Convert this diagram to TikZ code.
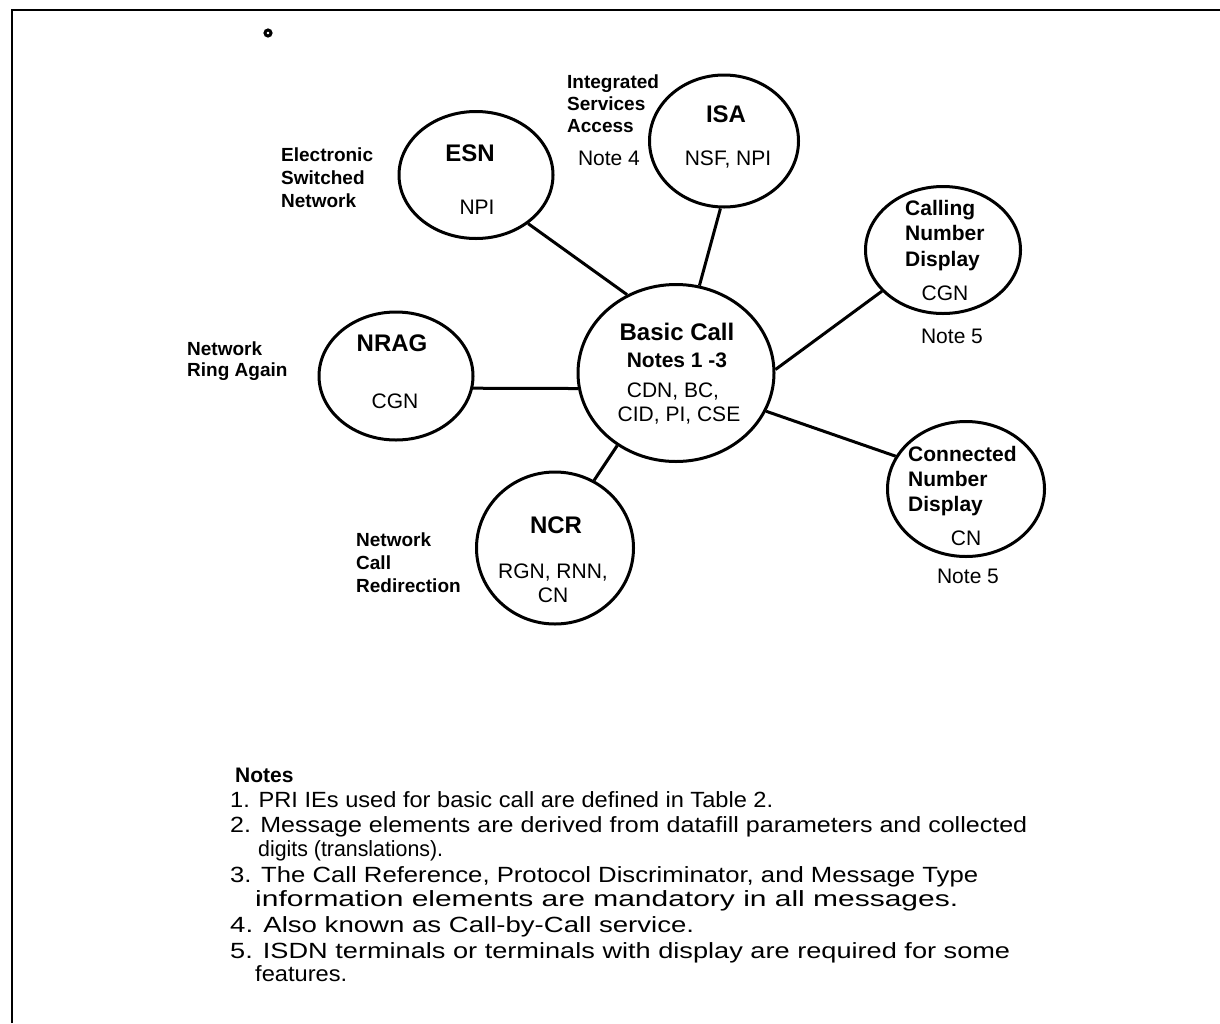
\documentclass[tikz,border=0pt]{standalone}
\usepackage{fontspec}
\usepackage{graphicx}
\setmainfont{Liberation Sans}
\usetikzlibrary{shapes.geometric}
\tikzset{
  ell/.style={ellipse, draw, line width=3pt, inner sep=0pt},
  conn/.style={line width=3pt},
  title/.style={font=\fontsize{24}{28}\selectfont\bfseries, inner sep=0pt},
  sub/.style={font=\fontsize{21}{24}\selectfont\bfseries, inner sep=0pt},
  ie/.style={font=\fontsize{21}{24}\selectfont, inner sep=0pt, align=center},
  lbl/.style={font=\fontsize{19}{23}\selectfont\bfseries, inner sep=0pt, align=left, anchor=west},
  inlbl/.style={font=\fontsize{21}{25.5}\selectfont\bfseries, inner sep=0pt, align=left, anchor=north west},
  note/.style={font=\fontsize{22}{24}\selectfont, inner sep=0pt, anchor=base west},
}
\newcommand{\fitw}[2]{\resizebox{#1pt}{\height}{#2}}
\begin{document}
\begin{tikzpicture}[x=1pt,y=-1pt]
\useasboundingbox (0,0) rectangle (1220,1023);
% frame
\draw[line width=2pt] (12,1023) -- (12,9.5) -- (1220,9.5);
\node[circle, draw, line width=3pt, minimum size=6pt, inner sep=0pt] (dot) at (268,33) {};

% ellipses
\node[ell, minimum width=154pt, minimum height=127pt] (esn) at (476,175) {};
\node[ell, minimum width=149pt, minimum height=132pt] (isa) at (724,141) {};
\node[ell, minimum width=196pt, minimum height=177pt] (basic) at (676,373) {};
\node[ell, minimum width=155pt, minimum height=127pt] (cnd) at (943,250) {};
\node[ell, minimum width=157pt, minimum height=135pt] (cnnd) at (966,489) {};
\node[ell, minimum width=154pt, minimum height=128pt] (nrag) at (396,376) {};
\node[ell, minimum width=157pt, minimum height=152pt] (ncr) at (555,548) {};

% connectors
\draw[conn] (esn.-43) -- (basic.122);
\draw[conn] (isa.-93) -- (basic.75);
\draw[conn] (cnd.214) -- (basic.2);
\draw[conn] (cnnd.155) -- (basic.-23);
\draw[conn] (nrag.-9) -- (basic.189);
\draw[conn] (ncr.60) -- (basic.231);

% ESN
\node[title] (esnT) at (470,153) {ESN};
\node[ie] (esnI) at (477,207) {NPI};
\node[lbl] (esnL) at (281,178) {Electronic\\Switched\\Network};
% ISA
\node[title] (isaT) at (726,114) {ISA};
\node[ie] (isaI) at (728,160) {NSF, NPI};
\node[lbl, font=\fontsize{19}{22}\selectfont\bfseries] (isaL) at (567,104) {Integrated\\Services\\Access};
\node[ie] (isaN) at (609,158) {Note 4};
% Basic call
\node[title] (basT) at (677,332) {Basic Call};
\node[sub] (basS) at (677,360) {Notes 1 -3};
\node[ie] (basI1) at (673,392) {CDN, BC,};
\node[ie] (basI2) at (679,416) {CID, PI, CSE};
% Calling number display
\node[inlbl] (cndL) at (905,200) {Calling\\Number\\Display};
\node[ie] (cndI) at (945,293) {CGN};
\node[ie] (cndN) at (952,336) {Note 5};
% Connected number display
\node[inlbl, font=\fontsize{21}{25}\selectfont\bfseries] (cnndL) at (908,446) {Connected\\Number\\Display};
\node[ie] (cnndI) at (966,538) {CN};
\node[ie] (cnndN) at (968,576) {Note 5};
% NRAG
\node[title] (nragT) at (392,343) {NRAG};
\node[ie] (nragI) at (395,401) {CGN};
\node[lbl, font=\fontsize{19}{21}\selectfont\bfseries] (nragL) at (187,361) {Network\\Ring Again};
% NCR
\node[title] (ncrT) at (556,525) {NCR};
\node[ie] (ncrI) at (553,583) {RGN, RNN,\\CN};
\node[lbl] (ncrL) at (356,563) {Network\\Call\\Redirection};

% Notes
\node[note, font=\fontsize{21}{24}\selectfont\bfseries] (nh) at (235,782) {Notes};
\node[note] (n1) at (230,807) {\fitw{543}{1. PRI IEs used for basic call are defined in Table 2.}};
\node[note] (n2) at (230,832) {\fitw{797}{2. Message elements are derived from datafill parameters and collected}};
\node[note] (n2b) at (258,856) {\fitw{185}{digits (translations).}};
\node[note] (n3) at (230,882) {\fitw{748}{3. The Call Reference, Protocol Discriminator, and Message Type}};
\node[note] (n3b) at (255,906) {\fitw{703}{information elements are mandatory in all messages.}};
\node[note] (n4) at (230,932) {\fitw{464}{4. Also known as Call-by-Call service.}};
\node[note] (n5) at (230,958) {\fitw{780}{5. ISDN terminals or terminals with display are required for some}};
\node[note] (n5b) at (255,981) {\fitw{92}{features.}};
\end{tikzpicture}
\end{document}
